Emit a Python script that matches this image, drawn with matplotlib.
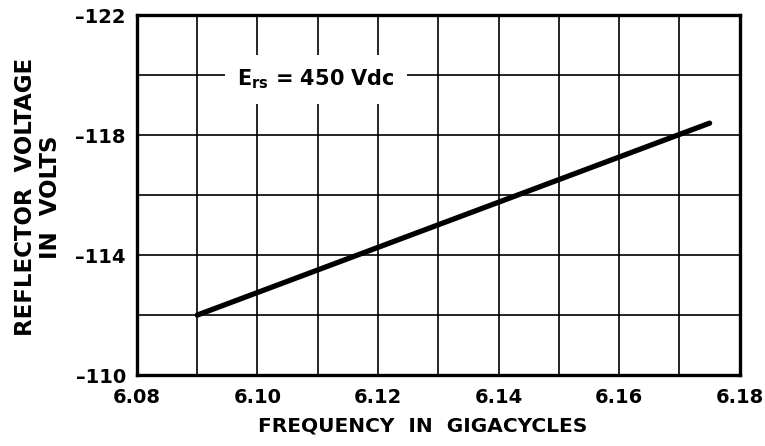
import matplotlib.pyplot as plt

# data
freq = [6.09, 6.175]
volts = [-112.0, -118.4]

x_ticks = [6.08, 6.10, 6.12, 6.14, 6.16, 6.18]
x_labels = ["6.08", "6.10", "6.12", "6.14", "6.16", "6.18"]
y_ticks = [-110, -114, -118, -122]
y_labels = ["\u2013110", "\u2013114", "\u2013118", "\u2013122"]
x_grid = [6.08 + 0.01 * i for i in range(11)]
y_grid = [-110, -112, -114, -116, -118, -120, -122]

plt.rcParams["font.family"] = ["DejaVu Sans"]
fig = plt.figure(figsize=(7.65, 4.46), dpi=100)
ax = fig.add_axes([0.179, 0.159, 0.788, 0.807])

for gx in x_grid:
    ax.axvline(gx, color="black", lw=1.2, zorder=1)
for gy in y_grid:
    ax.axhline(gy, color="black", lw=1.2, zorder=1)

ax.plot(freq, volts, color="black", lw=3.8, solid_capstyle="round", zorder=3)

ax.text(6.1097, -119.85, r"E$_{\mathbf{rs}}$ = 450 Vdc", fontsize=15, fontweight="bold",
        ha="center", va="center", zorder=4,
        bbox=dict(facecolor="white", edgecolor="none", pad=9))

ax.set_xlim(6.08, 6.18)
ax.set_ylim(-110, -122)
ax.set_xticks(x_ticks)
ax.set_xticklabels(x_labels, fontsize=14, fontweight="bold")
ax.set_yticks(y_ticks)
ax.set_yticklabels(y_labels, fontsize=14, fontweight="bold")
ax.tick_params(axis="x", length=0, pad=9)
ax.tick_params(axis="y", length=0, pad=8)
for s in ax.spines.values():
    s.set_linewidth(2.4)

ax.set_xlabel("FREQUENCY  IN  GIGACYCLES", fontsize=14.5, fontweight="bold")
ax.xaxis.set_label_coords(0.474, -0.115)
ax.set_ylabel("REFLECTOR  VOLTAGE\nIN  VOLTS", fontsize=16.5, fontweight="bold",
              linespacing=1.1)
ax.yaxis.set_label_coords(-0.125, 0.494)

fig.savefig("out.png", dpi=100)
